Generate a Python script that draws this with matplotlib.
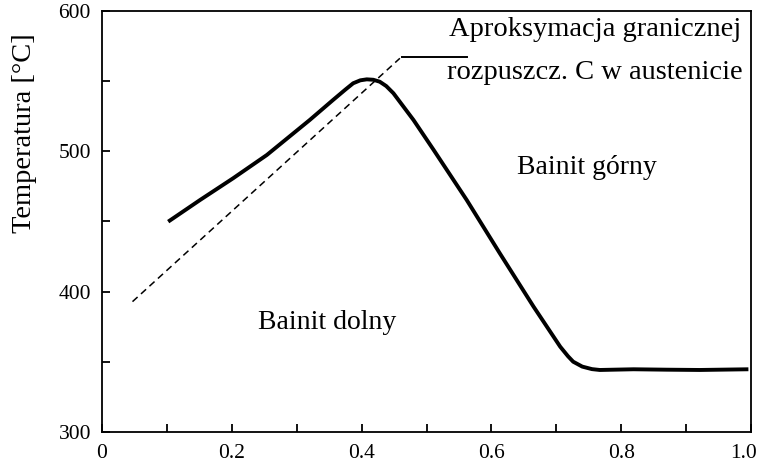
import matplotlib
matplotlib.use("Agg")
import matplotlib.pyplot as plt
import matplotlib.transforms as mtransforms

plt.rcParams['font.family'] = ['Liberation Serif', 'DejaVu Serif']

# Solid boundary curve (fraction vs temperature)
curve_x = [0.102, 0.151, 0.202, 0.254, 0.320, 0.356, 0.375, 0.387, 0.398, 0.408,
           0.418, 0.428, 0.438, 0.449, 0.480, 0.511, 0.562, 0.613, 0.665, 0.706,
           0.718, 0.726, 0.740, 0.755, 0.767, 0.819, 0.870, 0.921, 0.996]
curve_y = [449.9, 465.3, 480.8, 497.4, 522.3, 536.6, 544.0, 548.5, 550.6, 551.3,
           551.0, 549.6, 546.5, 541.4, 522.3, 501.0, 465.3, 427.3, 389.3, 360.8,
           354.0, 350.1, 346.6, 344.8, 344.2, 344.7, 344.4, 344.2, 344.7]

# Dashed approximation line
dash_x = [0.047, 0.459]
dash_y = [392.9, 566.3]

# Leader line to annotation
leader_x = [0.462, 0.562]
leader_y = [567.0, 567.0]

xticks = [0.0, 0.1, 0.2, 0.3, 0.4, 0.5, 0.6, 0.7, 0.8, 0.9, 1.0]
xtick_labels = ['0', '', '0.2', '', '0.4', '', '0.6', '', '0.8', '', '1.0']
yticks = [300, 350, 400, 450, 500, 550, 600]
ytick_labels = ['300', '', '400', '', '500', '', '600']

fig = plt.figure(figsize=(7.63, 4.66), dpi=100)
ax = fig.add_axes([102/763, 1-432/466, 649/763, 421/466])

ax.plot(curve_x, curve_y, color='black', lw=2.8, solid_capstyle='butt', solid_joinstyle='round')
ax.plot(dash_x, dash_y, color='black', lw=1.1, dashes=(4.5, 3))
ax.plot(leader_x, leader_y, color='black', lw=1.4)

ax.set_xlim(0, 1.0)
ax.set_ylim(300, 600)

ax.set_xticks(xticks)
ax.set_xticklabels(xtick_labels)
ax.set_yticks(yticks)
ax.set_yticklabels(ytick_labels)

ax.tick_params(axis='both', which='major', direction='in', length=6, width=1.3, labelsize=15.5)
ax.tick_params(axis='x', pad=9)
ax.tick_params(axis='y', pad=8)

# nudge the last x label inward so it stays inside the figure
last = ax.get_xticklabels()[-1]
last.set_transform(last.get_transform() + mtransforms.ScaledTranslation(-7/100, 0, fig.dpi_scale_trans))

for s in ax.spines.values():
    s.set_linewidth(1.3)

ax.set_ylabel('Temperatura [°C]', fontsize=20.5, va='center')
ax.yaxis.set_label_coords(-0.119, 0.71)

ax.text(0.535, 586.5, 'Aproksymacja granicznej', fontsize=20.5, ha='left', va='center')
ax.text(0.532, 556.5, 'rozpuszcz. C w austenicie', fontsize=20.5, ha='left', va='center')
ax.text(0.747, 488.8, 'Bainit górny', fontsize=20, ha='center', va='center')
ax.text(0.347, 377.7, 'Bainit dolny', fontsize=20, ha='center', va='center')

fig.savefig('out.png', dpi=100)
